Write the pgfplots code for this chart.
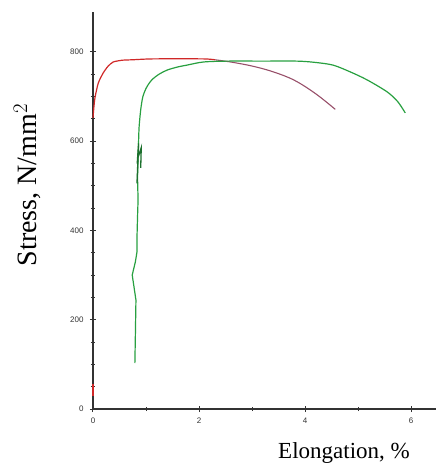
\documentclass[border=0pt]{standalone}
\usepackage{fontspec}
\setmainfont{Liberation Serif}
\setsansfont{Liberation Sans}
\usepackage{pgfplots}
\pgfplotsset{compat=1.18}
\definecolor{cred}{HTML}{D02828}
\definecolor{cmauve}{HTML}{98506A}
\definecolor{cgreen}{HTML}{28A040}
\definecolor{caxis}{HTML}{333333}
\begin{document}
\begin{tikzpicture}
\begin{axis}[
  at={(0,0)}, anchor=south west,
  scale only axis,
  width=343pt, height=397pt,
  xmin=0, xmax=6.47, ymin=0, ymax=889,
  clip=false,
  axis lines*=left,
  axis line style={caxis, line width=1.1pt},
  xtick={0,2,4,6}, minor x tick num=1,
  ytick={0,200,400,600,800}, minor y tick num=3,
  tick align=center,
  major tick length=6pt, minor tick length=4pt,
  every tick/.style={caxis, line width=1pt},
  tick label style={font=\sffamily\fontsize{8}{8}\selectfont, text=black!80},
  /pgf/number format/assume math mode=true,
  yticklabel style={xshift=-3pt},
  xticklabel style={yshift=-2pt},
]
% red curve (first specimen)
\addplot[cred, line width=1.2pt] coordinates {(0,30) (0,55)};
\addplot[cred, line width=1.2pt, smooth, tension=0.4] coordinates {
  (0,652) (0.02,680) (0.04,699) (0.10,730) (0.19,752) (0.28,767)
  (0.38,777) (0.55,781) (0.74,782) (1.13,784) (2.08,784) (2.30,782)};
\addplot[cmauve, line width=1.1pt, smooth, tension=0.6] coordinates {
  (2.30,782) (2.60,777) (3.00,768) (3.40,755) (3.80,736) (4.20,706) (4.57,671)};
% green curve (second specimen)
\addplot[cgreen, line width=1.2pt] coordinates {
  (0.79,103) (0.80,170) (0.81,244) (0.74,300) (0.80,330) (0.83,352)
  (0.83,385) (0.84,430) (0.85,468) (0.84,520) (0.86,600)};
\addplot[cgreen, line width=1.2pt, smooth, tension=0.5] coordinates {
  (0.86,600) (0.87,632)
  (0.90,670) (0.94,699) (1.01,720) (1.11,737) (1.25,750) (1.40,759)
  (1.60,766) (1.77,770) (2.08,777) (2.53,779) (3.20,779) (3.85,779)
  (4.20,776) (4.53,770) (4.85,755) (5.17,737) (5.55,710) (5.75,688)
  (5.89,663)};
\addplot[cgreen!70!black, line width=1.3pt] coordinates {
  (0.83,505) (0.86,595) (0.84,560) (0.91,585) (0.90,540)};
\end{axis}
\node[rotate=90, font=\fontsize{28}{28}\selectfont] at (-66pt,224pt) {Stress, N/mm$^2$};
\node[anchor=base, font=\fontsize{23}{23}\selectfont] at (251pt,-49pt) {Elongation, \%};
\pgfresetboundingbox
\useasboundingbox (-93pt,-57pt) rectangle (343pt,409pt);
\end{tikzpicture}
\end{document}
